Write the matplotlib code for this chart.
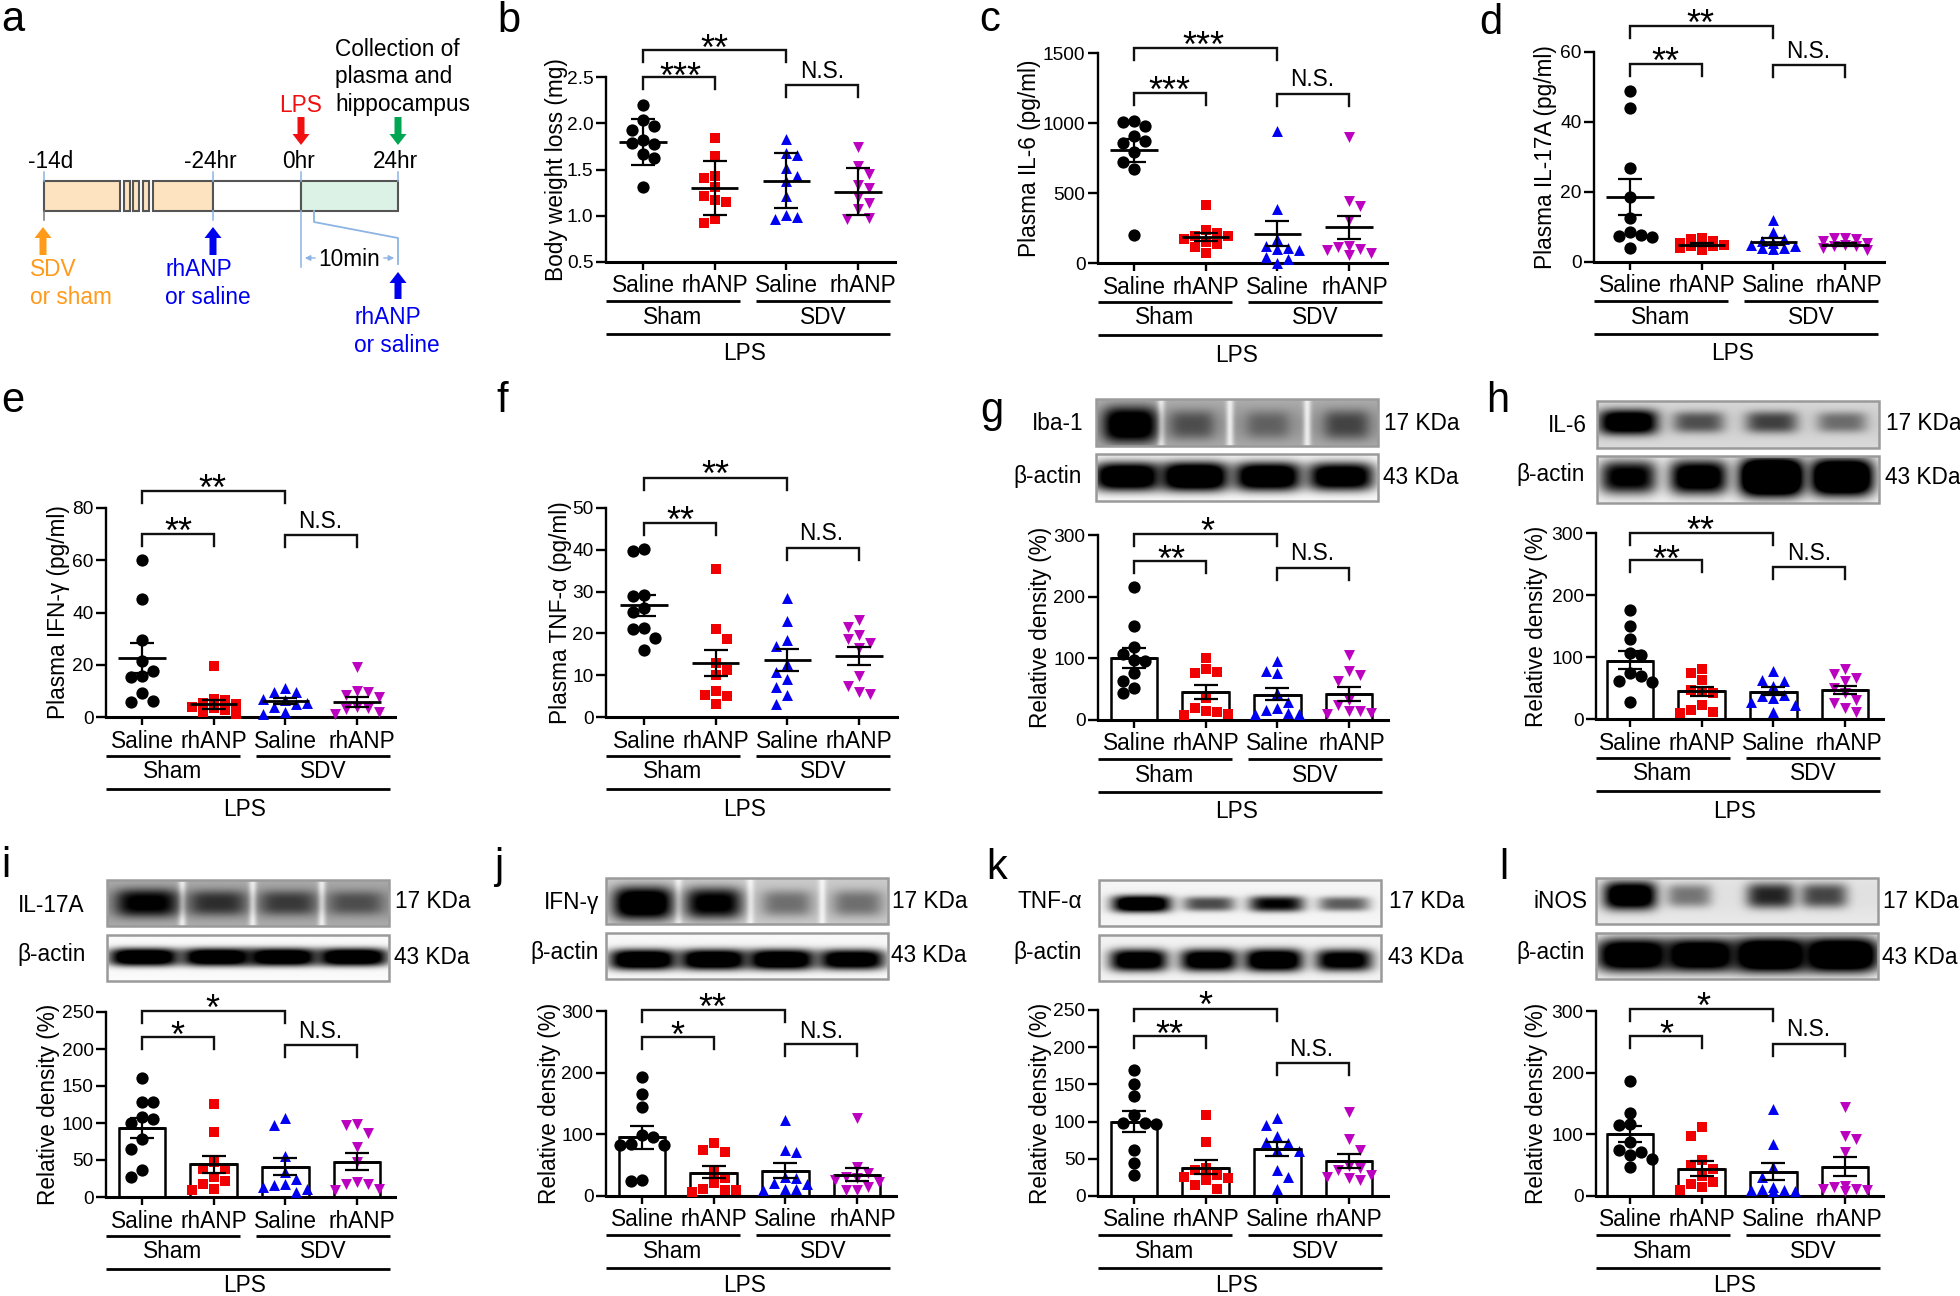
import numpy as np
import matplotlib
matplotlib.use("Agg")
import matplotlib.pyplot as plt
from matplotlib.patches import Rectangle, FancyArrow

plt.rcParams['font.family'] = ['Liberation Sans', 'DejaVu Sans']

W, H = 1960, 1296

# ---- data ----
categories = ['Saline', 'rhANP', 'Saline', 'rhANP']
groups = ['Sham', 'SDV']
outer_group = 'LPS'

b_vals = [[2.20, 2.03, 1.97, 1.93, 1.82, 1.79, 1.78, 1.67, 1.62, 1.31],
          [1.84, 1.65, 1.43, 1.41, 1.31, 1.21, 1.17, 1.15, 0.96, 0.92],
          [1.83, 1.68, 1.66, 1.52, 1.43, 1.38, 1.21, 1.01, 0.99, 0.97],
          [1.74, 1.54, 1.45, 1.33, 1.30, 1.20, 1.14, 1.07, 0.98, 0.96]]
b_mean = [1.80, 1.30, 1.38, 1.26]
b_lo = [1.55, 1.01, 1.08, 1.01]
b_hi = [2.05, 1.59, 1.68, 1.52]

c_vals = [[1015, 1010, 980, 905, 870, 860, 790, 720, 675, 200],
          [415, 235, 215, 195, 190, 175, 150, 135, 115, 70],
          [945, 385, 175, 125, 105, 100, 95, 40, 30, 0],
          [900, 440, 405, 310, 120, 115, 100, 95, 70, 60]]
c_mean = [805, 185, 210, 255]
c_lo = [725, 160, 125, 170]
c_hi = [885, 215, 300, 335]

d_vals = [[49, 44, 27, 18.5, 12.5, 8.5, 7.8, 7.5, 7.2, 4],
          [7, 6.5, 6, 5.5, 5, 5, 4.5, 4.5, 4, 3.5],
          [12, 8.5, 6.5, 6, 5.5, 5, 4.5, 4, 4, 3.8],
          [7, 7, 6.5, 6, 5.5, 5, 4.5, 4.5, 4, 3.5]]
d_mean = [18.6, 5, 5.8, 5]
d_lo = [13.5, 4.7, 4.8, 4.7]
d_hi = [23.7, 5.3, 6.8, 5.3]

e_vals = [[60, 45, 29.6, 21.3, 17.5, 15.6, 15.3, 9.2, 6.2, 5.6],
          [19.5, 7, 6.5, 5.5, 5, 4, 3.5, 2.5, 2, 1],
          [11, 9.5, 9.5, 7, 6.5, 5.5, 5, 4, 2, 1],
          [19, 10, 9.5, 8.5, 7.5, 4, 3.5, 3, 2, 1]]
e_mean = [22.7, 4.8, 6.2, 5.7]
e_lo = [17, 3, 5, 3.8]
e_hi = [28.3, 6.6, 7.3, 7.5]

f_vals = [[40.2, 39.6, 29.3, 29, 26, 25.2, 21.2, 21, 19, 16],
          [35.3, 21, 18.6, 13, 11.3, 10, 6.2, 5.2, 5, 3.2],
          [28.5, 23, 18.4, 17, 12.7, 10.7, 9.1, 7.1, 5.3, 3],
          [23.3, 21.5, 19.7, 18.7, 17.7, 16.5, 9.7, 7.5, 6.1, 5.5]]
f_mean = [26.7, 13, 13.7, 14.5]
f_lo = [24.2, 9.9, 11.1, 12.4]
f_hi = [29.3, 16, 16.3, 16.7]

g_vals = [[215, 153, 119, 107, 98, 95, 76, 63, 52, 44],
          [100, 82, 78, 76, 35, 20, 15, 13, 10, 8],
          [95, 79, 76, 44, 30, 19, 17, 11, 10, 9],
          [106, 80, 73, 63, 33, 25, 14, 14, 11, 10]]
g_mean = [100, 45, 41, 42]
g_lo = [84, 34, 32, 31]
g_hi = [116, 56, 52, 53]

h_vals = [[176, 150, 129, 106, 104, 74, 70, 61, 59, 27],
          [80, 74, 63, 47, 45, 42, 23, 15, 12, 10],
          [77, 63, 61, 53, 39, 37, 34, 28, 23, 11],
          [80, 72, 66, 61, 50, 42, 31, 26, 18, 12]]
h_mean = [94, 45, 44, 46]
h_lo = [80, 37, 38, 41]
h_hi = [110, 52, 51, 53]

i_vals = [[161, 128, 128, 108, 106, 100, 79, 65, 36, 27],
          [126, 88, 47, 38, 38, 27, 22, 18, 11, 9],
          [107, 97, 56, 34, 25, 18, 16, 14, 11, 7],
          [98, 97, 86, 68, 47, 20, 18, 18, 11, 10]]
i_mean = [93, 44, 41, 47]
i_lo = [80, 32, 30, 36]
i_hi = [107, 56, 53, 59]

j_vals = [[193, 165, 145, 99, 96, 85, 83, 83, 26, 25],
          [86, 75, 72, 39, 29, 21, 12, 10, 9, 7],
          [123, 75, 72, 31, 29, 21, 19, 12, 11, 10],
          [126, 47, 37, 31, 29, 26, 23, 15, 10, 9]]
j_mean = [95, 38, 41, 34]
j_lo = [77, 30, 30, 24]
j_hi = [113, 48, 54, 45]

k_vals = [[170, 150, 135, 109, 98, 98, 97, 62, 45, 28],
          [109, 73, 37, 35, 28, 26, 24, 22, 15, 10],
          [105, 96, 80, 73, 71, 62, 60, 35, 26, 10],
          [113, 76, 62, 40, 37, 35, 28, 26, 24, 22]]
k_mean = [100, 38, 63, 47]
k_lo = [86, 29, 54, 38]
k_hi = [114, 49, 73, 56]

l_vals = [[187, 135, 117, 115, 88, 74, 71, 66, 60, 47],
          [112, 98, 58, 50, 44, 33, 23, 20, 15, 9],
          [141, 84, 47, 31, 15, 12, 10, 9, 8, 8],
          [144, 98, 93, 71, 17, 15, 12, 12, 9, 8]]
l_mean = [100, 44, 39, 47]
l_lo = [87, 32, 26, 33]
l_hi = [113, 57, 53, 63]

# relative band strength per lane on each blot
g_top_bands = [1.0, 0.45, 0.35, 0.5]
g_act_bands = [1.0, 1.05, 1.0, 0.95]
h_top_bands = [1.0, 0.55, 0.6, 0.45]
h_act_bands = [0.85, 0.95, 1.3, 1.2]
i_top_bands = [0.85, 0.6, 0.55, 0.45]
i_act_bands = [1.0, 1.0, 1.0, 1.0]
j_top_bands = [1.0, 0.85, 0.4, 0.4]
j_act_bands = [1.0, 1.0, 1.0, 0.95]
k_top_bands = [1.0, 0.6, 0.8, 0.55]
k_act_bands = [0.95, 0.95, 1.0, 0.9]
l_top_bands = [1.0, 0.45, 0.7, 0.6]
l_act_bands = [1.0, 1.0, 1.1, 1.1]

colors = ['black', '#f00000', '#0000f0', '#bb00c0']
markers = ['o', 's', '^', 'v']
sizes = [78, 58, 62, 62]

# ---- layout of the panels, in pixels of the picture ----
panels = [
    dict(vals=b_vals, mean=b_mean, lo=b_lo, hi=b_hi, x0=606, x1=895, y0=262, y1=77, c0=643, ylim=(0.5, 2.5),
         ticks=[0.5, 1.0, 1.5, 2.0, 2.5], fmt='%.1f', ylabel='Body weight loss (mg)', lab=50, bars=False, shift=5,
         long=(50, '**', 714, 40), short=(77, '***', 680, 68), ns=(85, 822, 71)),
    dict(vals=c_vals, mean=c_mean, lo=c_lo, hi=c_hi, x0=1098, x1=1387, y0=263, y1=53, c0=1134, ylim=(0, 1500),
         ticks=[0, 500, 1000, 1500], fmt='%d', ylabel='Plasma IL-6 (pg/ml)', lab=69, bars=False, shift=6,
         long=(48, '***', 1203, 37), short=(93, '***', 1169, 82), ns=(94, 1312, 80)),
    dict(vals=d_vals, mean=d_mean, lo=d_lo, hi=d_hi, x0=1594, x1=1884, y0=262, y1=52, c0=1630, ylim=(0, 60),
         ticks=[0, 20, 40, 60], fmt='%d', ylabel='Plasma IL-17A (pg/ml)', lab=49, bars=False, shift=4,
         long=(26, '**', 1700, 15), short=(64, '**', 1665, 53), ns=(65, 1808, 52)),
    dict(vals=e_vals, mean=e_mean, lo=e_lo, hi=e_hi, x0=106, x1=395, y0=717, y1=508, c0=142, ylim=(0, 80),
         ticks=[0, 20, 40, 60, 80], fmt='%d', ylabel='Plasma IFN-γ (pg/ml)', lab=47, bars=False, shift=5,
         long=(491, '**', 212, 480), short=(534, '**', 178, 523), ns=(535, 320, 521)),
    dict(vals=f_vals, mean=f_mean, lo=f_lo, hi=f_hi, x0=606, x1=897, y0=717, y1=508, c0=644, ylim=(0, 50),
         ticks=[0, 10, 20, 30, 40, 50], fmt='%d', ylabel='Plasma TNF-α (pg/ml)', lab=46, bars=False, shift=0,
         long=(478, '**', 715, 466), short=(523, '**', 680, 512), ns=(548, 821, 534)),
    dict(vals=g_vals, mean=g_mean, lo=g_lo, hi=g_hi, x0=1098, x1=1388, y0=720, y1=535, c0=1134, ylim=(0, 300),
         ticks=[0, 100, 200, 300], fmt='%d', ylabel='Relative density (%)', lab=58, bars=True, shift=3,
         long=(534, '*', 1207, 523), short=(561, '**', 1171, 551), ns=(568, 1312, 554)),
    dict(vals=h_vals, mean=h_mean, lo=h_lo, hi=h_hi, x0=1596, x1=1883, y0=719, y1=533, c0=1630, ylim=(0, 300),
         ticks=[0, 100, 200, 300], fmt='%d', ylabel='Relative density (%)', lab=60, bars=True, shift=4,
         long=(533, '**', 1700, 522), short=(560, '**', 1666, 551), ns=(567, 1809, 553)),
    dict(vals=i_vals, mean=i_mean, lo=i_lo, hi=i_hi, x0=106, x1=395, y0=1197, y1=1012, c0=142, ylim=(0, 250),
         ticks=[0, 50, 100, 150, 200, 250], fmt='%d', ylabel='Relative density (%)', lab=58, bars=True, shift=5,
         long=(1011, '*', 212, 1000), short=(1037, '*', 177, 1027), ns=(1045, 320, 1031)),
    dict(vals=j_vals, mean=j_mean, lo=j_lo, hi=j_hi, x0=606, x1=896, y0=1196, y1=1011, c0=642, ylim=(0, 300),
         ticks=[0, 100, 200, 300], fmt='%d', ylabel='Relative density (%)', lab=57, bars=True, shift=6,
         long=(1010, '**', 712, 999), short=(1037, '*', 677, 1027), ns=(1044, 821, 1031)),
    dict(vals=k_vals, mean=k_mean, lo=k_lo, hi=k_hi, x0=1098, x1=1388, y0=1196, y1=1010, c0=1134, ylim=(0, 250),
         ticks=[0, 50, 100, 150, 200, 250], fmt='%d', ylabel='Relative density (%)', lab=58, bars=True, shift=0,
         long=(1009, '*', 1205, 997), short=(1036, '**', 1169, 1026), ns=(1063, 1311, 1050)),
    dict(vals=l_vals, mean=l_mean, lo=l_lo, hi=l_hi, x0=1596, x1=1883, y0=1196, y1=1011, c0=1630, ylim=(0, 300),
         ticks=[0, 100, 200, 300], fmt='%d', ylabel='Relative density (%)', lab=60, bars=True, shift=4,
         long=(1009, '*', 1703, 998), short=(1036, '*', 1666, 1026), ns=(1044, 1808, 1030)),
]
STEP = 71.7

# x0, x1, top, bottom, lane centres, band half width, band centre, band thickness, background, gaps, bands
blots = [
    (1096, 1378, 399, 446, [.12, .34, .61, .89], .09, .55, .36, .35, True, g_top_bands),
    (1096, 1378, 454, 501, [.11, .35, .61, .87], .115, .48, .30, .03, False, g_act_bands),
    (1597, 1879, 401, 448, [.11, .36, .62, .87], .10, .45, .26, .16, False, h_top_bands),
    (1597, 1879, 456, 503, [.11, .36, .62, .87], .10, .45, .36, .07, False, h_act_bands),
    (107, 389, 880, 926, [.14, .39, .64, .88], .11, .50, .30, .35, True, i_top_bands),
    (107, 389, 935, 981, [.13, .39, .62, .87], .12, .48, .19, .02, False, i_act_bands),
    (606, 888, 878, 924, [.13, .38, .64, .89], .10, .55, .34, .22, True, j_top_bands),
    (606, 888, 933, 979, [.13, .38, .62, .87], .115, .58, .22, .03, False, j_act_bands),
    (1099, 1381, 880, 926, [.15, .39, .63, .87], .10, .52, .18, .04, False, k_top_bands),
    (1099, 1381, 935, 981, [.14, .39, .62, .87], .10, .55, .24, .05, False, k_act_bands),
    (1596, 1878, 878, 924, [.12, .33, .62, .81], .09, .38, .30, .10, False, l_top_bands),
    (1596, 1878, 933, 979, [.13, .37, .62, .87], .125, .48, .36, .04, False, l_act_bands),
]

# label, x, y, ha for the blot names and the weights
blot_texts = [
    ('Iba-1', 1083, 424, 'right'), ('β-actin', 1082, 477, 'right'), ('17 KDa', 1384, 423, 'left'), ('43 KDa', 1383, 478, 'left'),
    ('IL-6', 1587, 426, 'right'), ('β-actin', 1585, 475, 'right'), ('17 KDa', 1886, 423, 'left'), ('43 KDa', 1885, 478, 'left'),
    ('IL-17A', 84, 906, 'right'), ('β-actin', 86, 954, 'right'), ('17 KDa', 395, 901, 'left'), ('43 KDa', 394, 957, 'left'),
    ('IFN-γ', 599, 902, 'right'), ('β-actin', 599, 952, 'right'), ('17 KDa', 892, 901, 'left'), ('43 KDa', 891, 956, 'left'),
    ('TNF-α', 1082, 902, 'right'), ('β-actin', 1082, 952, 'right'), ('17 KDa', 1389, 902, 'left'), ('43 KDa', 1388, 957, 'left'),
    ('iNOS', 1587, 902, 'right'), ('β-actin', 1585, 952, 'right'), ('17 KDa', 1883, 902, 'left'), ('43 KDa', 1882, 957, 'left'),
]

letters = [('a', 1, 31), ('b', 497, 32), ('c', 979, 31), ('d', 1479, 34), ('e', 1, 412), ('f', 496, 412),
           ('g', 980, 422), ('h', 1486, 412), ('i', 1, 877), ('j', 494, 878), ('k', 986, 879), ('l', 1499, 879)]

FS = 16.3
TICK_FS = 13.8
fig = plt.figure(figsize=(W / 100, H / 100), dpi=100, facecolor='white')

ov = fig.add_axes([0, 0, 1, 1], zorder=5)
ov.patch.set_alpha(0)
ov.axis('off')


def swarm(vals, per_px, s=11.0, limit=2):
    # keeps points apart the way prism does, offsets come back in pixels
    placed = []
    offs = []
    for n, v in enumerate(sorted(vals, reverse=True)):
        y = v * per_px
        cands = [0]
        sign = -1 if n % 2 else 1
        for k in range(1, limit + 1):
            cands += [sign * k * s, -sign * k * s]
        best, best_d = 0, -1
        for c in cands:
            d = min([np.hypot(c - a, y - b) for a, b in placed] or [99])
            if d >= 10.5:
                best = c
                break
            if d > best_d:
                best, best_d = c, d
        placed.append((best, y))
        offs.append(best)
    return offs, sorted(vals, reverse=True)


def draw_panel(p):
    x0, x1, y0, y1, c0 = p['x0'], p['x1'], p['y0'], p['y1'], p['c0']
    ax = fig.add_axes([x0 / W, 1 - y0 / H, (x1 - x0) / W, (y0 - y1) / H])
    ax.set_xlim((x0 - c0) / STEP, (x1 - c0) / STEP)
    ax.set_ylim(*p['ylim'])
    ax.patch.set_alpha(0)
    for s in ['top', 'right']:
        ax.spines[s].set_visible(False)
    ax.spines['left'].set_linewidth(1.7)
    ax.spines['bottom'].set_linewidth(2.2)
    ax.set_xticks(range(4))
    ax.set_xticklabels([])
    ax.set_yticks(p['ticks'])
    ax.set_yticklabels([p['fmt'] % t for t in p['ticks']], fontsize=TICK_FS)
    ax.tick_params(axis='y', length=7, width=1.7, pad=2)
    ax.tick_params(axis='x', length=5.8, width=1.7)
    per_px = (y0 - y1) / (p['ylim'][1] - p['ylim'][0])
    for i in range(4):
        if p['bars']:
            ax.bar(i, p['mean'][i], width=0.65, facecolor='white', edgecolor='black', linewidth=1.8, zorder=2)
        offs, vs = swarm(p['vals'][i], per_px)
        ax.scatter([i + o / STEP for o in offs], vs, s=sizes[i], c=colors[i], marker=markers[i],
                   linewidths=0, clip_on=False, zorder=3)
        ax.errorbar(i, p['mean'][i], yerr=[[p['mean'][i] - p['lo'][i]], [p['hi'][i] - p['mean'][i]]],
                    color='black', capsize=8.6, capthick=1.6, elinewidth=1.6, zorder=4)
        half = 0.325 if p['bars'] else 0.33
        ax.hlines(p['mean'][i], i - half, i + half, color='black', lw=2.0, zorder=4)

    ov.text(x0 - p['lab'], (y0 + y1) / 2, p['ylabel'], rotation=90, ha='center', va='center', fontsize=FS)

    centres = [c0 + i * STEP for i in range(4)]
    for i, name in enumerate(categories):
        xt = centres[i] + (p['shift'] if i == 3 else 0)
        ov.text(xt, y0 + 24, name, ha='center', va='center', fontsize=FS)
    ov.plot([x0, x0 + 134], [y0 + 39, y0 + 39], color='black', lw=2.0, solid_capstyle='butt')
    ov.plot([x0 + 150, x0 + 284], [y0 + 39, y0 + 39], color='black', lw=2.0, solid_capstyle='butt')
    ov.plot([x0, x0 + 284], [y0 + 72, y0 + 72], color='black', lw=2.0, solid_capstyle='butt')
    ov.text(x0 + 67, y0 + 55, groups[0], ha='center', va='center', fontsize=FS)
    ov.text(x0 + 217, y0 + 55, groups[1], ha='center', va='center', fontsize=FS)
    ov.text(x0 + 139, min(y0 + 92, 1285), outer_group, ha='center', va='center', fontsize=FS)

    # significance brackets
    for key, a, b in [('long', 0, 2), ('short', 0, 1), ('ns', 2, 3)]:
        top = p[key][0]
        ov.plot([centres[a], centres[a], centres[b], centres[b]], [top + 12, top, top, top + 12],
                color='#111111', lw=1.7, solid_joinstyle='miter')
    for key in ['long', 'short']:
        ov.text(p[key][2], p[key][3] + 20, p[key][1], ha='center', va='baseline', fontsize=26)
    ov.text(p['ns'][1], p['ns'][2], 'N.S.', ha='center', va='center', fontsize=FS)


def draw_blot(x0, x1, top, bottom, lanes, half, yc, thick, bg, gaps, bands):
    nx, ny = int(x1 - x0), int(bottom - top)
    xx, yy = np.meshgrid(np.linspace(0, 1, nx), np.linspace(0, 1, ny))
    back = np.full(xx.shape, bg) * (0.8 + 0.4 * np.exp(-((yy - yc) / 0.5) ** 2))
    if gaps:
        for a, b in zip(lanes[:-1], lanes[1:]):
            back = back * (1 - 0.8 * np.exp(-((xx - (a + b) / 2) / 0.014) ** 2))
    ink = back
    for c, amount in zip(lanes, bands):
        w = half * (0.75 + 0.3 * amount)
        t = thick * (0.7 + 0.35 * amount)
        band = np.exp(-(np.abs(xx - c) / w) ** 4) * np.exp(-(np.abs(yy - yc) / t) ** 3)
        ink = 1 - (1 - ink) * (1 - np.clip(1.35 * amount ** 1.3 * band, 0, 1))
    ov.imshow(1 - ink, cmap='gray', vmin=0, vmax=1, extent=(x0, x1, bottom, top), aspect='auto',
              interpolation='bilinear', zorder=1)
    ov.add_patch(Rectangle((x0, top), x1 - x0, bottom - top, fill=False, edgecolor='#9a9a9a', lw=1.8, zorder=2))


def fat_arrow(x, y_from, y_to, color):
    ov.add_patch(FancyArrow(x, y_from, 0, y_to - y_from, width=7, head_width=17, head_length=11,
                            length_includes_head=True, color=color, lw=0))


def draw_schematic():
    orange, green = '#fde3c0', '#dcf2e6'
    edge = '#555555'
    for a, b, fc in [(44, 120, orange), (124, 130, orange), (133, 139, orange), (143, 149, orange),
                     (153, 213, orange), (213, 301, 'white'), (301, 398, green)]:
        ov.add_patch(Rectangle((a, 181), b - a, 30, facecolor=fc, edgecolor=edge, lw=1.5))
    thin = '#8db4e2'
    for xv, a, b in [(44, 172, 181), (213, 172, 181), (301, 172, 181), (398, 172, 181),
                     (213, 211, 220), (301, 211, 267)]:
        ov.plot([xv, xv], [a, b], color=thin, lw=1.1)
    ov.plot([44, 44], [211, 220], color='#777777', lw=1.1)
    ov.plot([314, 314, 398, 398], [211, 222, 238, 264], color=thin, lw=1.3)
    ov.annotate('', xy=(302, 258), xytext=(318, 258), arrowprops=dict(arrowstyle='-|>', color=thin, lw=1, mutation_scale=8))
    ov.annotate('', xy=(397, 258), xytext=(381, 258), arrowprops=dict(arrowstyle='-|>', color=thin, lw=1, mutation_scale=8))
    ov.text(349, 260, '10min', ha='center', va='center', fontsize=FS)
    fat_arrow(43, 255, 227, '#ff9a1a')
    fat_arrow(213, 255, 227, '#0000f0')
    fat_arrow(398, 299, 272, '#0000f0')
    fat_arrow(301, 117, 145, '#f01010')
    fat_arrow(398, 117, 145, '#00a651')
    for txt, xv in [('-14d', 51), ('-24hr', 210), ('0hr', 298), ('24hr', 395)]:
        ov.text(xv, 161, txt, ha='center', va='center', fontsize=FS)
    ov.text(301, 106, 'LPS', color='#f01010', ha='center', va='center', fontsize=FS)
    for txt, yv in [('Collection of', 49), ('plasma and', 76), ('hippocampus', 104)]:
        ov.text(335, yv, txt, ha='left', va='center', fontsize=FS)
    for txt, xv, yv, col in [('SDV', 30, 270, '#ff9a1a'), ('or sham', 30, 297, '#ff9a1a'),
                             ('rhANP', 165, 270, '#0000f0'), ('or saline', 165, 297, '#0000f0'),
                             ('rhANP', 354, 317, '#0000f0'), ('or saline', 354, 345, '#0000f0')]:
        ov.text(xv, yv, txt, color=col, ha='left', va='center', fontsize=FS)


for b in blots:
    draw_blot(*b)
for p in panels:
    draw_panel(p)
draw_schematic()
for txt, xv, yv, ha in blot_texts:
    ov.text(xv, yv, txt, ha=ha, va='center', fontsize=FS)
for txt, xv, yv in letters:
    ov.text(xv, yv, txt, ha='left', va='baseline', fontsize=30)

ov.set_xlim(0, W)
ov.set_ylim(H, 0)

fig.savefig('out.png', dpi=100)
